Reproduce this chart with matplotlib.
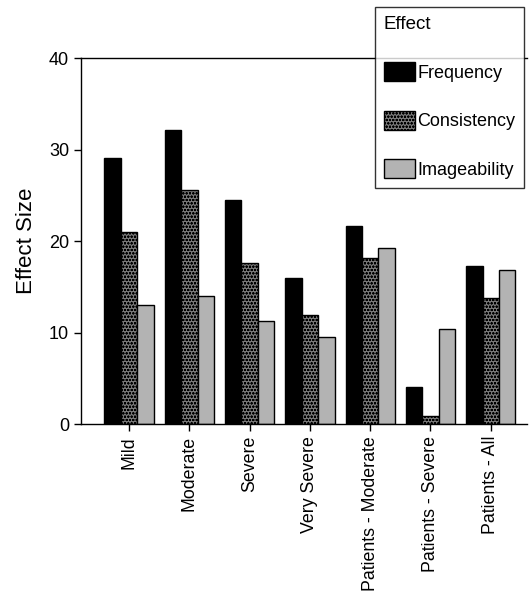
import numpy as np
import matplotlib.pyplot as plt
from matplotlib.patches import Patch

plt.rcParams['font.family'] = ['Liberation Sans', 'DejaVu Sans']
plt.rcParams['hatch.linewidth'] = 0.6

groups = ["Mild", "Moderate", "Severe", "Very Severe",
          "Patients - Moderate", "Patients - Severe", "Patients - All"]
frequency = [29.1, 32.1, 24.5, 16.0, 21.7, 4.1, 17.3]
consistency = [21.0, 25.6, 17.6, 11.9, 18.2, 0.9, 13.8]
imageability = [13.0, 14.0, 11.3, 9.5, 19.2, 10.4, 16.8]

series = ["Frequency", "Consistency", "Imageability"]
values = [frequency, consistency, imageability]
faces = ["black", "#7a7a7a", "#b3b3b3"]
hatches = [None, "ooooo", None]

fig = plt.figure(figsize=(5.29, 5.94), dpi=100)
ax = fig.add_axes([0.153, 0.286, 0.843, 0.616])

x = np.arange(len(groups))
w = 0.273
for i, (name, vals) in enumerate(zip(series, values)):
    ax.bar(x + (i - 1) * w, vals, w, color=faces[i], edgecolor="black",
           linewidth=1.0, hatch=hatches[i], label=name)

ax.set_xlim(-0.8, 6.6)
ax.set_ylim(0, 40)
ax.set_yticks([0, 10, 20, 30, 40])
ax.set_xticks(x)
ax.set_xticklabels(groups, rotation=90, fontsize=12.8)
ax.tick_params(axis="y", labelsize=13, length=5, width=1)
ax.tick_params(axis="x", length=5, width=1)
ax.spines["right"].set_visible(False)
for s in ["left", "top", "bottom"]:
    ax.spines[s].set_linewidth(1.0)
ax.set_ylabel("Effect Size", fontsize=16, labelpad=9)

handles = [Patch(facecolor=faces[i], edgecolor="black", hatch=hatches[i], label=series[i])
           for i in range(3)]
leg = fig.legend(handles=handles, title="Effect", loc="upper right",
                 bbox_to_anchor=(0.991, 0.988), fontsize=13, title_fontsize=13.5,
                 frameon=True, fancybox=False, edgecolor="black",
                 handlelength=1.7, handleheight=1.25, labelspacing=1.6,
                 handletextpad=0.15, borderpad=0.5, borderaxespad=0)
leg.get_frame().set_linewidth(1.0)
leg._legend_box.align = "left"

fig.savefig("out.png", dpi=100)
